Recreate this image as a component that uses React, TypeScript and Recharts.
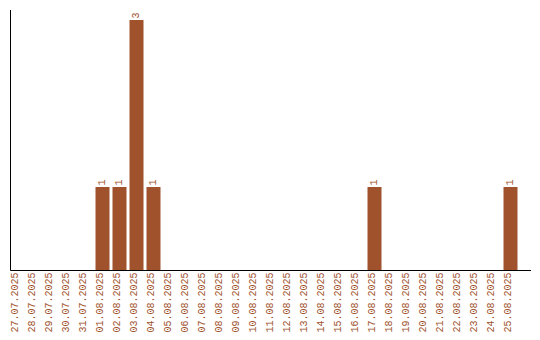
import { BarChart, Bar, XAxis, YAxis, LabelList } from 'recharts';

// daily counts, 27.07.2025 – 25.08.2025
const days = [
  '27.07.2025', '28.07.2025', '29.07.2025', '30.07.2025', '31.07.2025',
  '01.08.2025', '02.08.2025', '03.08.2025', '04.08.2025', '05.08.2025',
  '06.08.2025', '07.08.2025', '08.08.2025', '09.08.2025', '10.08.2025',
  '11.08.2025', '12.08.2025', '13.08.2025', '14.08.2025', '15.08.2025',
  '16.08.2025', '17.08.2025', '18.08.2025', '19.08.2025', '20.08.2025',
  '21.08.2025', '22.08.2025', '23.08.2025', '24.08.2025', '25.08.2025',
];
const counts = [
  0, 0, 0, 0, 0,
  1, 1, 3, 1, 0,
  0, 0, 0, 0, 0,
  0, 0, 0, 0, 0,
  0, 1, 0, 0, 0,
  0, 0, 0, 0, 1,
];

const data = days.map((day, i) => ({ day, count: counts[i] }));

const BROWN = '#A0522D';
const FONT = '"Liberation Mono", monospace';

const DayTick = (props: any) => {
  const { x, y, payload } = props;
  const tx = x + 0.5;
  const ty = y + 2;
  return (
    <text
      x={tx}
      y={ty}
      transform={`rotate(-90, ${tx}, ${ty})`}
      textAnchor="end"
      fill={BROWN}
      fontSize={10}
      fontFamily={FONT}
    >
      {payload.value}
    </text>
  );
};

const ValueLabel = (props: any) => {
  const { x, y, width, value } = props;
  if (!value) return null;
  const tx = x + width / 2 + 3;
  const ty = y - 1.5;
  return (
    <text
      x={tx}
      y={ty}
      transform={`rotate(-90, ${tx}, ${ty})`}
      textAnchor="start"
      fill={BROWN}
      fontSize={10}
      fontFamily={FONT}
    >
      {value}
    </text>
  );
};

export default function App() {
  return (
    <div style={{ position: 'absolute', left: 0, top: 0, background: '#fff' }}>
      <BarChart
        width={540}
        height={340}
        data={data}
        margin={{ top: 10, right: 9, left: 0.5, bottom: 0 }}
      >
        <XAxis
          dataKey="day"
          interval={0}
          tickLine={false}
          tickSize={0}
          tickMargin={0}
          height={69.5}
          padding={{ left: -2, right: 12.5 }}
          axisLine={{ stroke: '#000' }}
          tick={<DayTick />}
        />
        <YAxis
          width={10}
          domain={[0, 3.12]}
          tick={false}
          tickLine={false}
          axisLine={{ stroke: '#000' }}
        />
        <Bar dataKey="count" fill={BROWN} barSize={14} isAnimationActive={false}>
          <LabelList dataKey="count" content={<ValueLabel />} />
        </Bar>
      </BarChart>
    </div>
  );
}
